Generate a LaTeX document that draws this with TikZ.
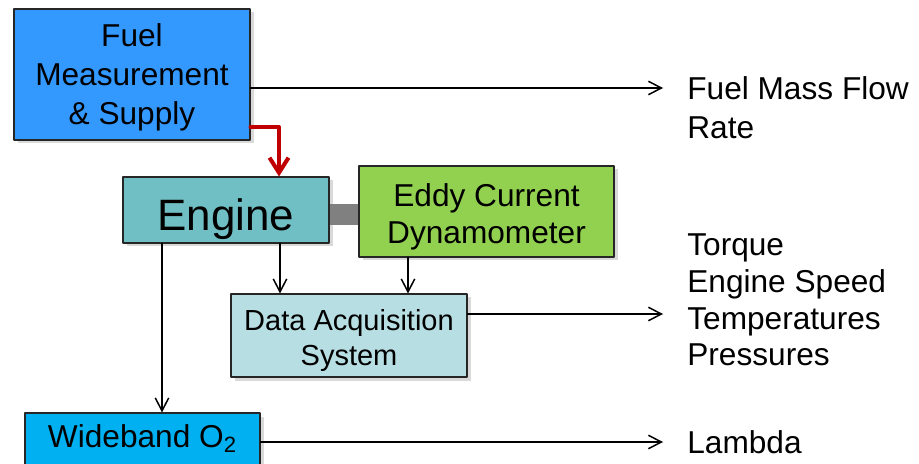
\documentclass[tikz,border=0pt]{standalone}
\usepackage{fontspec}
\setmainfont{Liberation Sans}
\usepackage{xcolor}
\usetikzlibrary{arrows.meta,positioning,shadows}
\definecolor{fuelblue}{HTML}{3399FF}
\definecolor{engineteal}{HTML}{70BFC5}
\definecolor{dynogreen}{HTML}{92D050}
\definecolor{daqcyan}{HTML}{B7DEE2}
\definecolor{lambdablue}{HTML}{00B0F0}
\definecolor{feedred}{HTML}{C00000}
\tikzset{
  every picture/.append style={line cap=round,line join=round},
  dyno box/.style={draw=black!85,line width=0.6pt,align=center,inner sep=0pt,
    drop shadow={shadow xshift=0.7mm,shadow yshift=-0.7mm,opacity=0.3}},
  dyno signal/.style={line width=0.85pt,-{Straight Barb[length=2.6mm,width=2.7mm]}},
  dyno feed/.style={feedred,line width=2.3pt,-{Straight Barb[length=3mm,width=3.8mm]}},
  dyno shaft/.style={black!50,line width=0.42cm,line cap=butt},
  dyno note/.style={font=\fontsize{18}{22.2}\selectfont,align=left,anchor=west,inner sep=0pt}
}
\newcommand{\dynolift}[1]{\rule{0pt}{#1}}

\begin{document}
\begin{tikzpicture}
\useasboundingbox (0,0) rectangle (18.38,9.26);
\clip (0,0) rectangle (18.38,9.26);
\node[dyno box,fill=fuelblue,minimum width=4.72cm,minimum height=2.62cm,
  font=\fontsize{18}{22.2}\selectfont] (fuel) at (2.64,7.77)
  {\dynolift{0.58cm}Fuel\\Measurement\\\& Supply};
\node[dyno box,fill=engineteal,minimum width=4.12cm,minimum height=1.32cm,
  font=\fontsize{25}{30}\selectfont,text height=25pt,text depth=1.4pt] (engine) at (4.52,5.06) {Engine};
\node[dyno box,fill=dynogreen,minimum width=5.10cm,minimum height=1.82cm,
  font=\fontsize{18}{21}\selectfont] (eddy) at (9.73,5.03) {\dynolift{0.66cm}Eddy Current\\Dynamometer};
\node[dyno box,fill=daqcyan,minimum width=4.72cm,minimum height=1.66cm,
  font=\fontsize{16.5}{20}\selectfont] (daq) at (6.98,2.55) {\dynolift{0.62cm}Data Acquisition\\System};
\node[dyno box,fill=lambdablue,minimum width=4.7cm,minimum height=1.12cm,
  font=\fontsize{18}{22}\selectfont,text height=13pt,text depth=5.8pt] (wideband) at (2.85,0.44)
  {Wideband O\textsubscript{2}};
\node[dyno note] (fuelrate) at (13.74,7.11) {Fuel Mass Flow\\Rate};
\node[dyno note,font=\fontsize{18}{20.9}\selectfont] (outputs) at (13.74,3.26)
  {Torque\\Engine Speed\\Temperatures\\Pressures};
\node[dyno note] (lambda) at (13.74,0.42) {Lambda};
\coordinate (fuelend) at (13.26,7.5);
\coordinate (daqend) at (13.26,2.98);
\coordinate (lambdaend) at (13.26,0.42);
\coordinate (feedturn) at (5.58,6.72);
\draw[dyno shaft] ([yshift=-0.09cm]engine.east) -- ([yshift=-0.09cm]engine.east -| eddy.west);
\draw[dyno feed] (feedturn -| fuel.east) -- (feedturn) -- (feedturn |- engine.north);
\draw[dyno signal] (fuelend -| fuel.east) -- (fuelend);
\draw[dyno signal] (daqend -| daq.east) -- (daqend);
\draw[dyno signal] (lambdaend -| wideband.east) -- (lambdaend);
\draw[dyno signal] ([xshift=1.08cm]engine.south) -- ([xshift=1.08cm]engine.south |- daq.north);
\draw[dyno signal] ([xshift=-1.57cm]eddy.south) -- ([xshift=-1.57cm]eddy.south |- daq.north);
\draw[dyno signal] ([xshift=-1.28cm]engine.south) -- ([xshift=-1.28cm]engine.south |- wideband.north);
\end{tikzpicture}
\end{document}
